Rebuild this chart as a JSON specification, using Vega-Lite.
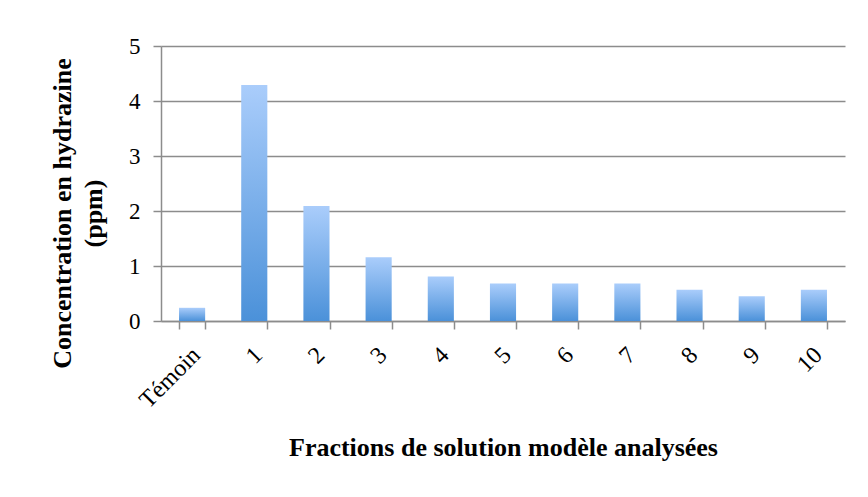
{
  "$schema": "https://vega.github.io/schema/vega-lite/v6.json",
  "autosize": {"type": "none"},
  "padding": {"left": 161, "top": 46, "right": 23, "bottom": 176},
  "width": 684,
  "height": 275,
  "background": "white",
  "data": {
    "values": [
      {"fraction": "Témoin", "ppm": 0.24},
      {"fraction": "1", "ppm": 4.29},
      {"fraction": "2", "ppm": 2.09},
      {"fraction": "3", "ppm": 1.16},
      {"fraction": "4", "ppm": 0.81},
      {"fraction": "5", "ppm": 0.68},
      {"fraction": "6", "ppm": 0.68},
      {"fraction": "7", "ppm": 0.68},
      {"fraction": "8", "ppm": 0.57},
      {"fraction": "9", "ppm": 0.45},
      {"fraction": "10", "ppm": 0.57}
    ]
  },
  "mark": {
    "type": "bar",
    "color": {
      "gradient": "linear",
      "x1": 0, "y1": 0, "x2": 0, "y2": 1,
      "stops": [
        {"offset": 0, "color": "#aacdfb"},
        {"offset": 1, "color": "#4b91d9"}
      ]
    }
  },
  "encoding": {
    "x": {
      "field": "fraction",
      "type": "nominal",
      "sort": null,
      "scale": {"paddingInner": 0.58, "paddingOuter": 0.29},
      "axis": {
        "title": "Fractions de solution modèle analysées",
        "titleFont": "Liberation Serif",
        "titleFontSize": 26,
        "titleFontWeight": "bold",
        "titleColor": "black",
        "titlePadding": 22,
        "labelFont": "Liberation Serif",
        "labelFontSize": 24,
        "labelColor": "black",
        "labelAngle": -45,
        "labelAlign": "right",
        "labelBaseline": "alphabetic",
        "labelPadding": 27,
        "labelOffset": 9,
        "tickBand": "extent",
        "tickSize": 8,
        "tickColor": "#8c8c8c",
        "tickWidth": 1.5,
        "domainColor": "#8c8c8c",
        "domainWidth": 1.5
      }
    },
    "y": {
      "field": "ppm",
      "type": "quantitative",
      "scale": {"domain": [0, 5], "nice": false},
      "axis": {
        "title": ["Concentration en hydrazine", "(ppm)"],
        "titleFont": "Liberation Serif",
        "titleFontSize": 26,
        "titleFontWeight": "bold",
        "titleColor": "black",
        "titlePadding": 22,
        "titleLineHeight": 31,
        "titleY": 167,
        "values": [0, 1, 2, 3, 4, 5],
        "labelFont": "Liberation Serif",
        "labelFontSize": 23,
        "labelColor": "black",
        "labelPadding": 13,
        "tickSize": 8,
        "tickColor": "#8c8c8c",
        "tickWidth": 1.5,
        "domainColor": "#8c8c8c",
        "domainWidth": 1.5,
        "grid": true,
        "gridColor": "#8c8c8c",
        "gridWidth": 1.5
      }
    }
  },
  "config": {"view": {"stroke": null}}
}
